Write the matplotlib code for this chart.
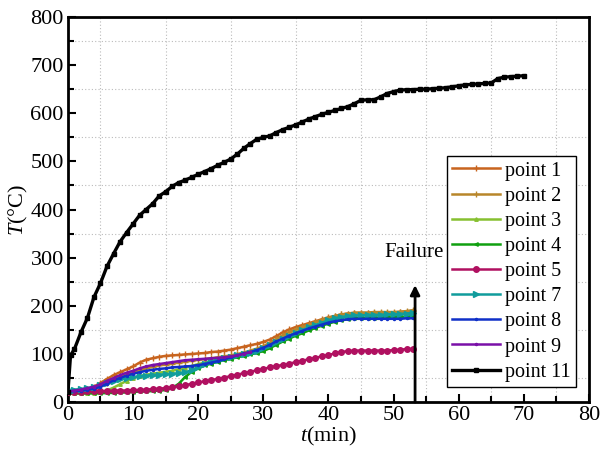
import matplotlib
matplotlib.use("Agg")
import matplotlib.pyplot as plt
from matplotlib.ticker import MultipleLocator

plt.rcParams["font.family"] = ["Liberation Serif", "DejaVu Serif"]
plt.rcParams["mathtext.fontset"] = "custom"
plt.rcParams["mathtext.it"] = "Liberation Serif:italic"
plt.rcParams["mathtext.rm"] = "Liberation Serif"

# time axis for the colored thermocouples (min)
t_pts = list(range(0, 54))

p1 = [20, 22, 24, 27, 32, 40, 48, 56, 62, 68, 74, 82, 88, 91, 94, 96, 97, 98, 99, 100,
      101, 102, 104, 105, 107, 109, 112, 115, 118, 121, 125, 130, 137, 145, 151, 156, 160,
      164, 168, 172, 176, 179, 182, 184, 185, 185, 185, 186, 186, 186, 186, 187, 188, 190]
p2 = [20, 21, 23, 25, 28, 33, 40, 47, 53, 58, 62, 66, 70, 73, 76, 78, 80, 82, 84, 86,
      88, 89, 91, 93, 95, 97, 100, 103, 107, 111, 116, 123, 131, 139, 146, 151, 156, 161,
      166, 171, 175, 179, 182, 184, 186, 186, 186, 187, 187, 187, 187, 188, 189, 191]
p3 = [18, 18, 18, 19, 19, 20, 24, 30, 37, 44, 50, 54, 57, 59, 61, 63, 65, 68, 71, 75,
      79, 82, 85, 88, 91, 94, 97, 100, 104, 108, 113, 119, 126, 133, 139, 145, 150, 155,
      160, 165, 169, 173, 176, 178, 180, 180, 181, 181, 181, 181, 182, 182, 183, 185]
p4 = [18, 18, 18, 18, 18, 18, 19, 19, 20, 20, 21, 22, 22, 23, 24, 25, 29, 38, 52, 63,
      70, 76, 80, 84, 87, 90, 93, 96, 99, 102, 106, 112, 119, 126, 132, 138, 143, 149,
      154, 159, 163, 167, 170, 172, 174, 175, 175, 175, 176, 176, 176, 177, 177, 178]
p5 = [20, 20, 21, 22, 23, 23, 23, 24, 24, 24, 25, 25, 26, 27, 28, 29, 31, 33, 35, 38,
      41, 43, 46, 48, 51, 54, 57, 60, 63, 66, 69, 72, 75, 77, 80, 83, 86, 89, 92, 95,
      98, 101, 104, 106, 107, 107, 107, 107, 107, 107, 108, 109, 110, 111]
p7 = [25, 26, 27, 29, 31, 35, 40, 44, 47, 50, 52, 54, 55, 56, 57, 58, 59, 60, 62, 66,
      72, 80, 85, 88, 91, 94, 97, 100, 103, 107, 112, 118, 125, 132, 138, 144, 150, 155,
      160, 165, 170, 174, 177, 179, 180, 180, 181, 181, 181, 182, 182, 183, 184, 186]
p8 = [22, 23, 24, 26, 28, 32, 38, 45, 50, 55, 59, 62, 65, 67, 69, 70, 72, 73, 74, 75,
      77, 79, 82, 85, 89, 93, 97, 101, 104, 108, 113, 119, 126, 132, 138, 143, 148, 153,
      157, 161, 165, 168, 170, 172, 173, 173, 173, 173, 173, 173, 173, 173, 174, 174]
# point 9 stops reading at about 28 min
t9 = list(range(0, 29))
p9 = [22, 24, 26, 29, 32, 37, 44, 50, 56, 61, 65, 70, 74, 77, 79, 81, 83, 85, 87, 88,
      89, 90, 91, 92, 93, 95, 97, 100, 104]

t11 = [0, 0.4] + list(range(1, 71))
p11 = [20, 97, 110, 145, 175, 218, 247, 282, 308, 333, 352, 370, 388, 400, 412, 428, 437,
       448, 456, 461, 467, 473, 479, 485, 492, 498, 505, 515, 527, 537, 546, 550, 553, 560,
       566, 571, 576, 582, 588, 593, 598, 602, 606, 610, 614, 620, 627, 628, 628, 634, 641,
       645, 648, 649, 649, 650, 650, 651, 652, 653, 655, 657, 659, 660, 661, 662, 663, 672,
       675, 676, 677, 678]

failure_t = 53.3

series = [
    ("point 1", t_pts, p1, "#c8641e", "+", 4),
    ("point 2", t_pts, p2, "#b8862a", "+", 4),
    ("point 3", t_pts, p3, "#86c030", "^", 2.5),
    ("point 4", t_pts, p4, "#10a010", "<", 2.5),
    ("point 5", t_pts, p5, "#b01060", "o", 4),
    ("point 7", t_pts, p7, "#109c9c", ">", 4),
    ("point 8", t_pts, p8, "#1030c8", ".", 3),
    ("point 9", t9, p9, "#7a10a8", ".", 3),
    ("point 11", t11, p11, "#000000", "s", 3.5),
]

fig = plt.figure(figsize=(6.01, 4.59), dpi=100)
ax = fig.add_axes([0.113, 0.124, 0.867, 0.839])

for name, tx, ty, col, mk, ms in series:
    lw = 2.4 if name == "point 11" else 1.8
    ax.plot(tx, ty, color=col, lw=lw, marker=mk, ms=ms, mew=1, label=name, zorder=3)

ax.annotate("", xy=(failure_t, 243), xytext=(failure_t, 0),
            arrowprops=dict(arrowstyle="-|>", color="black", lw=2,
                            mutation_scale=14, shrinkA=0, shrinkB=0), zorder=4)
ax.text(failure_t - 0.2, 290, "Failure", ha="center", va="bottom", fontsize=15)

ax.set_xlim(0, 80)
ax.set_ylim(0, 800)
ax.xaxis.set_major_locator(MultipleLocator(10))
ax.xaxis.set_minor_locator(MultipleLocator(5))
ax.yaxis.set_major_locator(MultipleLocator(100))
ax.yaxis.set_minor_locator(MultipleLocator(50))
ax.tick_params(which="both", direction="in", labelsize=16, width=1.5)
ax.tick_params(which="major", length=6, pad=3)
ax.tick_params(which="minor", length=4)
ax.grid(which="minor", color="#bbbbbb", ls=(0, (1, 2)), lw=0.8)
for s in ax.spines.values():
    s.set_linewidth(2)

ax.set_xlabel("$t$(min)", fontsize=16, labelpad=0)
ax.set_ylabel("$T$(°C)", fontsize=16, labelpad=0)

leg = ax.legend(loc="lower right", bbox_to_anchor=(0.975, 0.04), fontsize=14.5,
                frameon=True, fancybox=False, edgecolor="black", framealpha=1,
                handlelength=2.4, labelspacing=0.3, borderpad=0.25,
                handletextpad=0.25, borderaxespad=0)
leg.get_frame().set_linewidth(1)

fig.savefig("out.png", dpi=100, facecolor="white")
